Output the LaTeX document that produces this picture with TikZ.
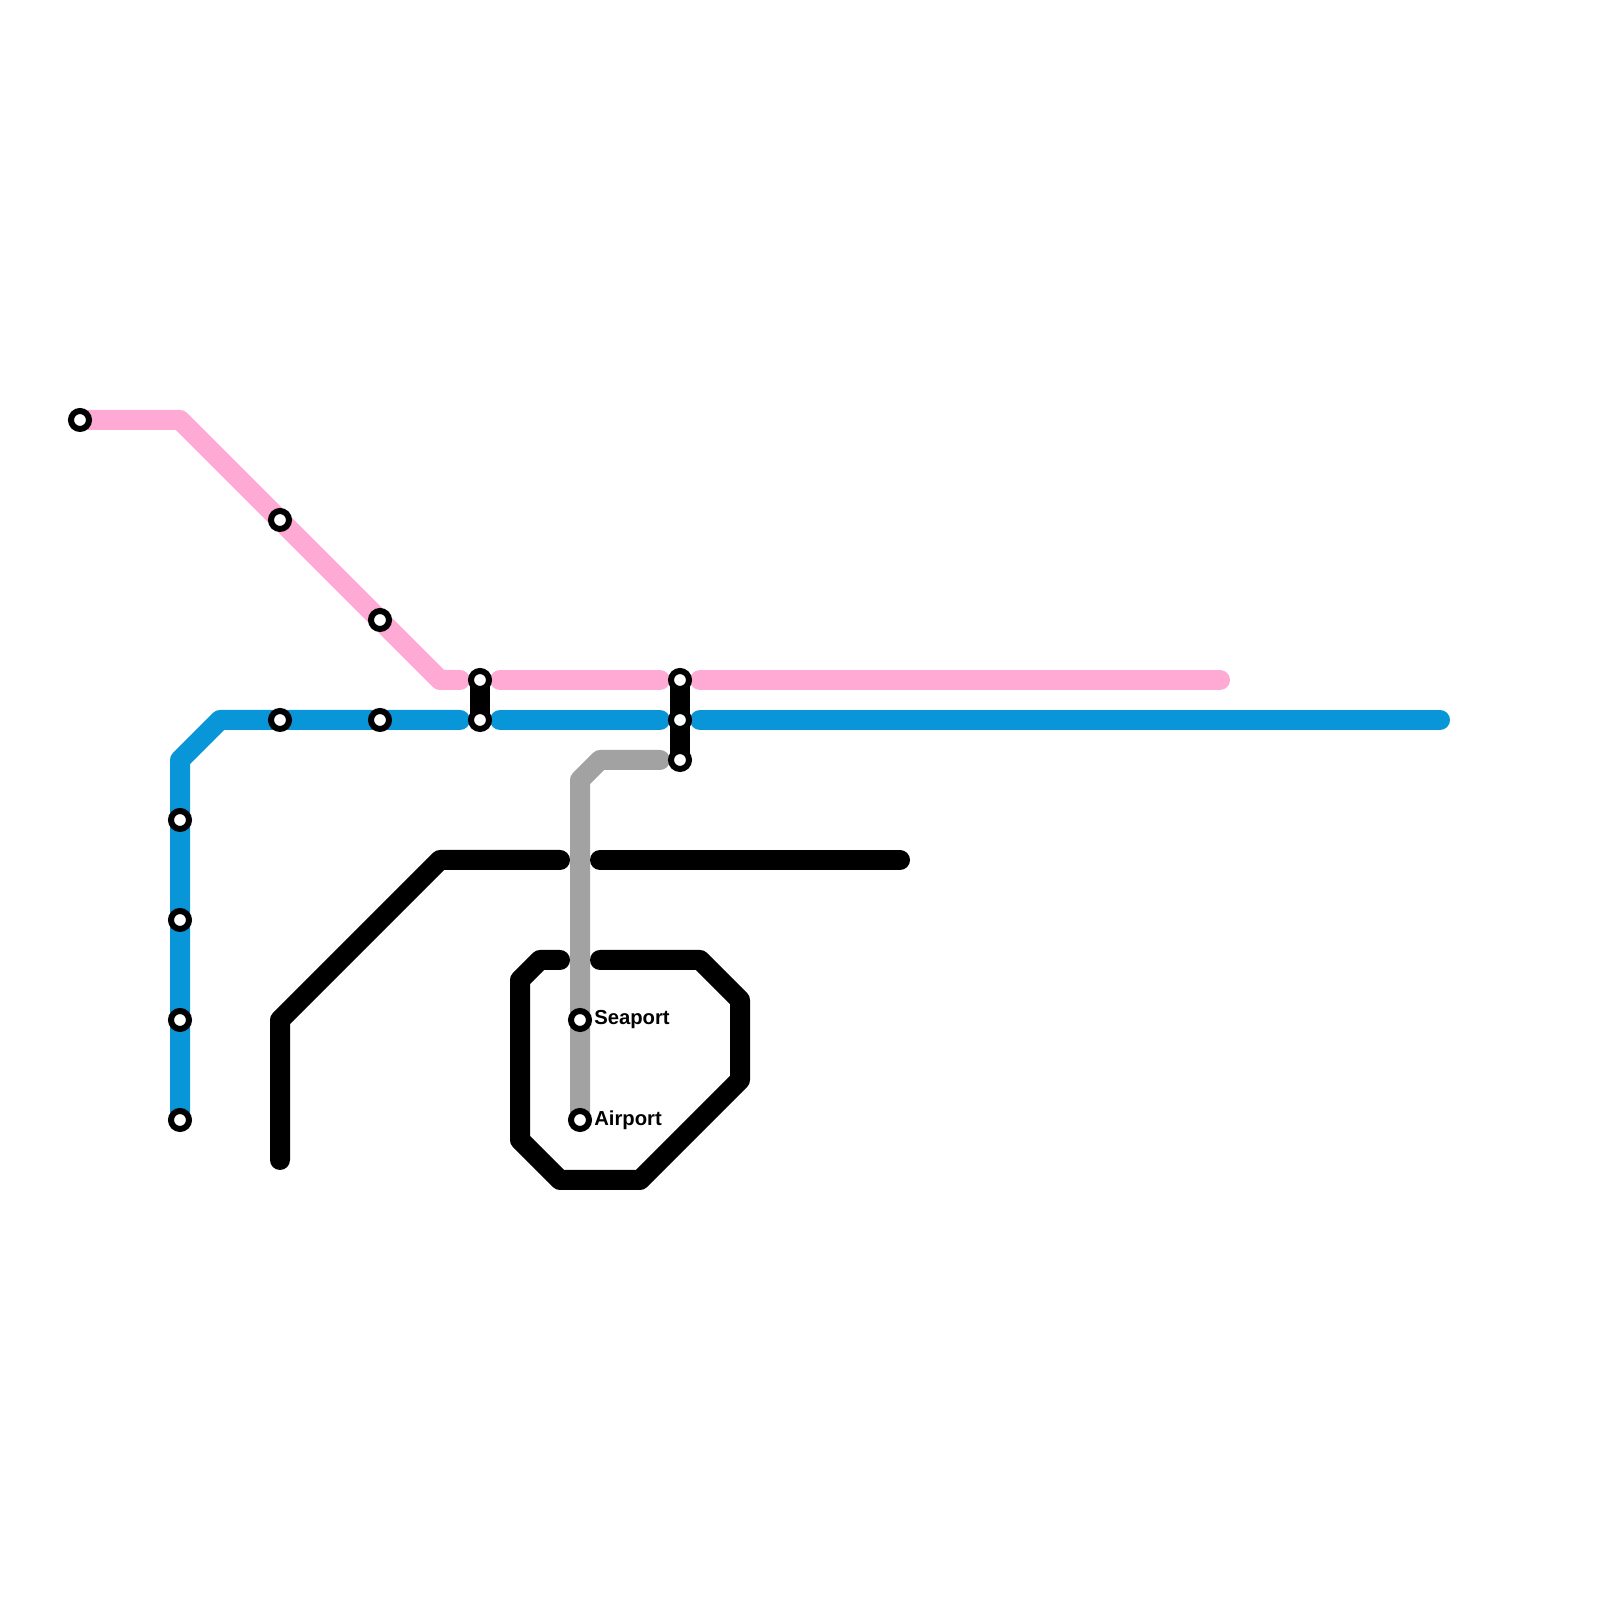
\documentclass[tikz,border=0pt]{standalone}
\usepackage{fontspec}
\setmainfont{Liberation Sans}
\usetikzlibrary{backgrounds,positioning}
\definecolor{linepink}{HTML}{FFA9D5}
\definecolor{lineblue}{HTML}{0996D9}
\definecolor{linegray}{HTML}{A2A2A2}

\begin{document}
\begin{tikzpicture}[
  station/.style={circle, draw=black, fill=white, line width=0.15cm, minimum size=0.45cm, inner sep=0pt},
  route/.style={line width=0.5cm, line cap=round, line join=round},
  stationlabel/.style={font=\fontsize{14.4pt}{16pt}\selectfont\bfseries, inner sep=0pt}]

\useasboundingbox (0,0) rectangle (40,40);

% Stations
\node[station] (west)   at (2,29.5)  {};
\node[station] (pinka)  at (7,27)    {};
\node[station] (pinkb)  at (9.5,24.5) {};
\node[station] (blua)   at (7,22)    {};
\node[station] (blub)   at (9.5,22)  {};
\node[station] (xpink)  at (12,23)   {};
\node[station] (xblue)  at (12,22)   {};
\node[station] (ypink)  at (17,23)   {};
\node[station] (yblue)  at (17,22)   {};
\node[station] (ygray)  at (17,21)   {};
\node[station] (southa) at (4.5,19.5) {};
\node[station] (southb) at (4.5,17)  {};
\node[station] (southc) at (4.5,14.5) {};
\node[station] (southd) at (4.5,12)  {};
\node[station] (sea)    at (14.5,14.5) {};
\node[station] (air)    at (14.5,12) {};

\node[stationlabel, right=0.05cm of sea] (sealabel) {Seaport};
\node[stationlabel, right=0.05cm of air] (airlabel) {Airport};

% Bends and free ends
\coordinate (pinkbenda) at (4.5,29.5);
\coordinate (pinkbendb) at (11,23);
\coordinate (pinkenda)  at (11.5,23);
\coordinate (pinkstartb) at (12.5,23);
\coordinate (pinkendb)  at (16.5,23);
\coordinate (pinkstartc) at (17.5,23);
\coordinate (pinkendc)  at (30.5,23);
\coordinate (bluebenda) at (4.5,21);
\coordinate (bluebendb) at (5.5,22);
\coordinate (blueenda)  at (11.5,22);
\coordinate (bluestartb) at (12.5,22);
\coordinate (blueendb)  at (16.5,22);
\coordinate (bluestartc) at (17.5,22);
\coordinate (blueendc)  at (36,22);

\begin{scope}[on background layer]
% Pink line
\draw[route, linepink] (west.center) -- (pinkbenda) -- (pinkbendb) -- (pinkenda);
\draw[route, linepink] (pinkstartb) -- (pinkendb);
\draw[route, linepink] (pinkstartc) -- (pinkendc);

% Blue line
\draw[route, lineblue] (southd.center) -- (bluebenda) -- (bluebendb) -- (blueenda);
\draw[route, lineblue] (bluestartb) -- (blueendb);
\draw[route, lineblue] (bluestartc) -- (blueendc);

% Interchanges
\draw[route, black] (xpink.center) -- (xblue.center);
\draw[route, black] (ypink.center) -- (ygray.center);

% Gray line
\coordinate (graybenda) at (14.5,20.5);
\coordinate (graybendb) at (15,21);
\coordinate (grayend)   at (16.5,21);
\draw[route, linegray] (air.center) -- (graybenda) -- (graybendb) -- (grayend);

% Black line, west part
\coordinate (blacka) at (7,11);
\coordinate (blackb) at (7,14.5);
\coordinate (blackc) at (11,18.5);
\coordinate (blackd) at (14,18.5);
\coordinate (blacke) at (15,18.5);
\coordinate (blackf) at (22.5,18.5);
\draw[route, black] (blacka) -- (blackb) -- (blackc) -- (blackd);
\draw[route, black] (blacke) -- (blackf);

% Black loop round the airport
\coordinate (loopa) at (14,16);
\coordinate (loopb) at (13.5,16);
\coordinate (loopc) at (13,15.5);
\coordinate (loopd) at (13,11.5);
\coordinate (loope) at (14,10.5);
\coordinate (loopf) at (16,10.5);
\coordinate (loopg) at (18.5,13);
\coordinate (looph) at (18.5,15);
\coordinate (loopi) at (17.5,16);
\coordinate (loopj) at (15,16);
\draw[route, black] (loopa) -- (loopb) -- (loopc) -- (loopd) -- (loope) -- (loopf)
  -- (loopg) -- (looph) -- (loopi) -- (loopj);
\end{scope}

\end{tikzpicture}
\end{document}
